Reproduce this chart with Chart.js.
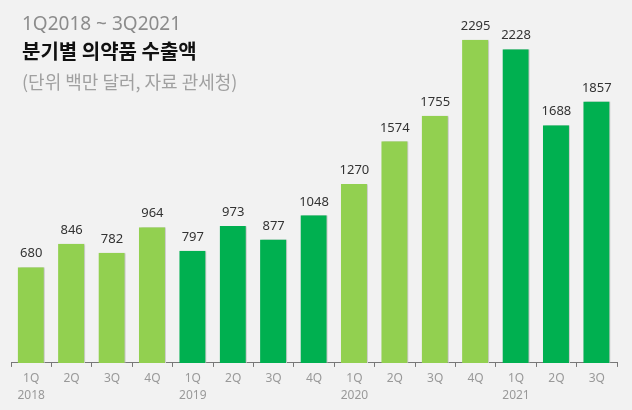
<!DOCTYPE html>
<html>
<head>
<meta charset="utf-8">
<script src="https://cdn.jsdelivr.net/npm/chart.js@4"></script>
<style>
    body { margin: 0; background: #f2f2f2; font-family: "Noto Sans CJK KR", "Noto Sans", sans-serif; }
    #wrap { position: relative; width: 632px; height: 410px; }
    #chart { position: absolute; left: 0; top: 0; }
    .t { position: absolute; left: 22px; white-space: nowrap; }
    #t1 { top: 10px; font-size: 19px; color: #8c8c8c; font-family: "Noto Sans", sans-serif; }
    #t2 { top: 36px; font-size: 20px; font-weight: bold; color: #111; }
    #t3 { top: 68px; font-size: 18px; color: #a0a0a0; }
</style>
</head>
<body>
<div id="wrap">
    <canvas id="chart" width="632" height="410"></canvas>
    <div class="t" id="t1">1Q2018 ~ 3Q2021</div>
    <div class="t" id="t2">분기별 의약품 수출액</div>
    <div class="t" id="t3">(단위 백만 달러, 자료 관세청)</div>
</div>
<script>
var quarters = ['1Q', '2Q', '3Q', '4Q', '1Q', '2Q', '3Q', '4Q', '1Q', '2Q', '3Q', '4Q', '1Q', '2Q', '3Q'];
var years = ['2018', '', '', '', '2019', '', '', '', '2020', '', '', '', '2021', '', ''];
var exports = [680, 846, 782, 964, 797, 973, 877, 1048, 1270, 1574, 1755, 2295, 2228, 1688, 1857];

var light = '#92d050';
var dark = '#00b050';
var colors = quarters.map(function (q, i) {
    var y = Math.floor(i / 4);
    return (y % 2 == 0) ? light : dark;
});

// value labels above bars
var valueLabels = {
    id: 'valueLabels',
    afterDatasetsDraw: function (chart) {
        var ctx = chart.ctx;
        var meta = chart.getDatasetMeta(0);
        ctx.save();
        ctx.font = '13px "Noto Sans", sans-serif';
        ctx.fillStyle = '#333';
        ctx.textAlign = 'center';
        ctx.textBaseline = 'bottom';
        meta.data.forEach(function (bar, i) {
            ctx.fillText(exports[i], bar.x, bar.y - 7);
        });
        ctx.restore();
    }
};

// soft shadow on the bars
var barShadow = {
    id: 'barShadow',
    beforeDatasetDraw: function (chart) {
        var ctx = chart.ctx;
        ctx.save();
        ctx.shadowColor = 'rgba(0,0,0,0.22)';
        ctx.shadowOffsetX = 2;
        ctx.shadowOffsetY = 0;
        ctx.shadowBlur = 2;
    },
    afterDatasetDraw: function (chart) {
        chart.ctx.restore();
    }
};

new Chart(document.getElementById('chart'), {
    type: 'bar',
    data: {
        labels: quarters,
        datasets: [{
            data: exports,
            backgroundColor: colors,
            borderColor: '#ffffff',
            borderWidth: { right: 1, left: 0, top: 0, bottom: 0 },
            borderSkipped: false,
            categoryPercentage: 1,
            barPercentage: 0.67
        }]
    },
    options: {
        responsive: false,
        animation: false,
        layout: { padding: { left: 11, right: 15, top: 25, bottom: 3 } },
        plugins: {
            legend: { display: false },
            tooltip: { enabled: false }
        },
        scales: {
            y: { display: false, min: 0, max: 2400 },
            x: {
                border: { display: true, color: '#777', width: 1 },
                grid: {
                    offset: true,
                    drawOnChartArea: false,
                    drawTicks: true,
                    tickLength: 4,
                    color: '#777'
                },
                ticks: {
                    color: '#999',
                    font: { family: '"Noto Sans", sans-serif', size: 12, lineHeight: 1.42 },
                    padding: 3,
                    maxRotation: 0,
                    autoSkip: false,
                    callback: function (v, i) {
                        return years[i] ? [quarters[i], years[i]] : quarters[i];
                    }
                }
            }
        }
    },
    plugins: [barShadow, valueLabels]
});
</script>
</body>
</html>
